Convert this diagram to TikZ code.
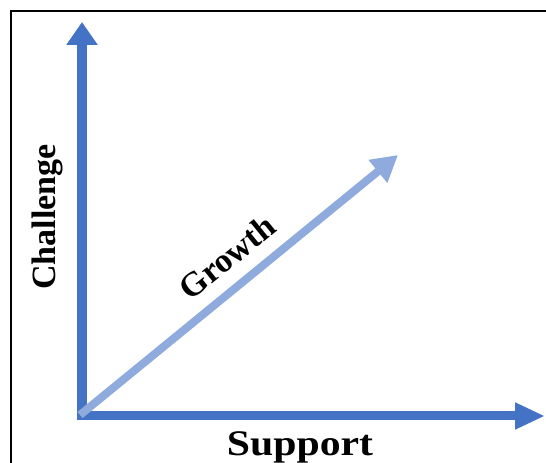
\documentclass[tikz,border=0pt]{standalone}
\usepackage{fontspec}
\setmainfont{Liberation Serif}
\usetikzlibrary{arrows.meta}
\definecolor{axisblue}{HTML}{4472C4}
\definecolor{growthblue}{HTML}{8FAADC}
\begin{document}
\begin{tikzpicture}[x=1pt,y=1pt,
  axisline/.style={draw=axisblue, line width=10pt},
  growthline/.style={draw=growthblue, line width=8pt},
  axislabel/.style={font=\bfseries\fontsize{34}{40}\selectfont, inner sep=0pt}]
\useasboundingbox (0,0) rectangle (546,463);
% frame
\draw[line width=2pt] (11,0) -- (11,452) -- (546,452);
% axis end points
\coordinate (vbase) at (82,43);
\coordinate (vtip) at (82,441);
\coordinate (hbase) at (77,47);
\coordinate (htip) at (545,47);
\coordinate (gbase) at (80,48);
\coordinate (gtip) at (398,308);
% axes
\draw[axisline, -{Triangle[length=23pt,width=30pt]}] (vbase) -- (vtip);
\draw[axisline, line width=9pt, -{Triangle[length=30pt,width=25pt]}] (hbase) -- (htip);
% growth diagonal
\draw[growthline, -{Triangle[length=26pt,width=28pt]}] (gbase) -- (gtip);
% labels
\node[axislabel, rotate=90] (challenge) at (47,246) {Challenge};
\node[axislabel, font=\bfseries\fontsize{36}{40}\selectfont, xscale=1.16, anchor=base] (support) at (300,7) {Support};
\node[axislabel, rotate=39] (growth) at (227,206) {Growth};
\end{tikzpicture}
\end{document}
